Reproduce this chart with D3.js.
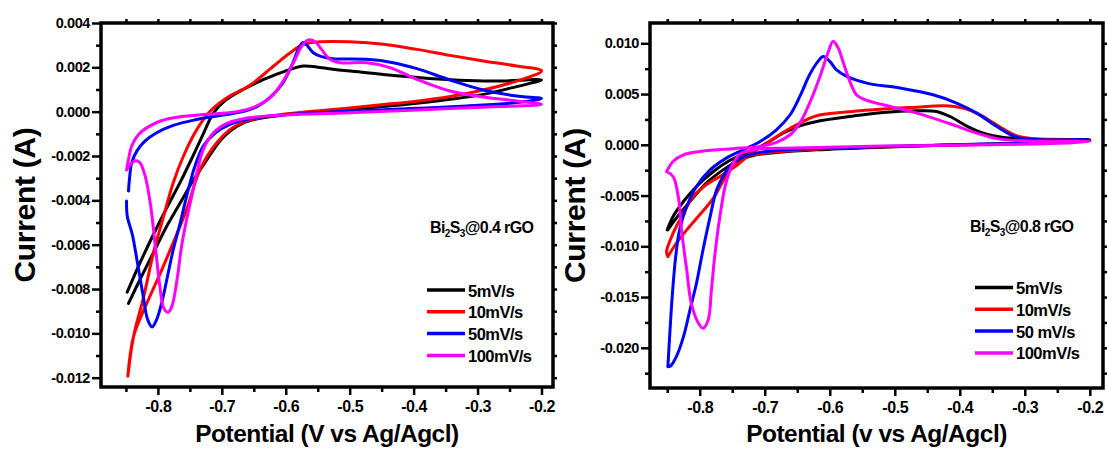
<!DOCTYPE html>
<html>
<head>
<meta charset="utf-8">
<script src="https://cdn.jsdelivr.net/npm/d3@7"></script>
<style>
  body { margin: 0; background: #fff; }
  svg { display: block; }
  text { font-family: Arial, "Liberation Sans", sans-serif; font-weight: bold; fill: #000; }
</style>
</head>
<body>
<svg id="chart" width="1107" height="454"></svg>
<script>
// data: [potential (V), current (A)], forward scan then reverse scan
const seriesLabelsL = ["5mV/s", "10mV/s", "50mV/s", "100mV/s"];
const seriesLabelsR = ["5mV/s", "10mV/s", "50 mV/s", "100mV/s"];
const seriesColors = ["#000000", "#ff0000", "#0000ff", "#ff00ff"];

const xTicks = [-0.8, -0.7, -0.6, -0.5, -0.4, -0.3, -0.2];
const xMinor = [-0.85, -0.75, -0.65, -0.55, -0.45, -0.35, -0.25];
const yTicksL = [0.004, 0.002, 0.000, -0.002, -0.004, -0.006, -0.008, -0.010, -0.012];
const yMinorL = [0.003, 0.001, -0.001, -0.003, -0.005, -0.007, -0.009, -0.011];
const yTicksR = [0.010, 0.005, 0.000, -0.005, -0.010, -0.015, -0.020];
const yMinorR = [0.0075, 0.0025, -0.0025, -0.0075, -0.0125, -0.0175, -0.0225];

// Bi2S3@0.4 rGO
const left5 = [
  [-0.848,-0.00814],[-0.828,-0.00682],[-0.807,-0.00554],[-0.786,-0.00433],[-0.765,-0.00318],
  [-0.746,-0.00205],[-0.729,-0.00100],[-0.713,-0.00005],[-0.694,0.00052],[-0.666,0.00101],
  [-0.640,0.00138],[-0.614,0.00169],[-0.593,0.00191],[-0.572,0.00206],[-0.552,0.00202],
  [-0.526,0.00191],[-0.473,0.00176],[-0.421,0.00161],[-0.369,0.00149],[-0.317,0.00141],
  [-0.265,0.00138],[-0.200,0.00143],
  [-0.239,0.00113],[-0.291,0.00078],[-0.343,0.00056],[-0.395,0.00038],[-0.447,0.00023],
  [-0.500,0.00011],[-0.552,-0.00002],[-0.604,-0.00015],[-0.640,-0.00030],[-0.666,-0.00050],
  [-0.687,-0.00087],[-0.703,-0.00132],[-0.723,-0.00215],[-0.744,-0.00306],[-0.765,-0.00411],
  [-0.786,-0.00516],[-0.807,-0.00636],[-0.828,-0.00757],[-0.846,-0.00865]
];
const left10 = [
  [-0.847,-0.01193],[-0.838,-0.01013],[-0.822,-0.00832],[-0.807,-0.00637],[-0.791,-0.00471],
  [-0.776,-0.00321],[-0.760,-0.00200],[-0.739,-0.00080],[-0.718,0.00003],[-0.692,0.00063],
  [-0.656,0.00119],[-0.619,0.00206],[-0.593,0.00266],[-0.572,0.00304],[-0.546,0.00315],
  [-0.500,0.00315],[-0.447,0.00304],[-0.395,0.00281],[-0.343,0.00254],[-0.291,0.00229],
  [-0.239,0.00206],[-0.200,0.00184],
  [-0.239,0.00138],[-0.291,0.00098],[-0.343,0.00068],[-0.395,0.00047],[-0.447,0.00032],
  [-0.500,0.00017],[-0.552,0.00003],[-0.604,-0.00012],[-0.640,-0.00027],[-0.666,-0.00047],
  [-0.687,-0.00080],[-0.708,-0.00140],[-0.734,-0.00260],[-0.755,-0.00441],[-0.776,-0.00591],
  [-0.796,-0.00727],[-0.817,-0.00862],[-0.838,-0.01013],[-0.847,-0.01193]
];
const left50 = [
  [-0.846,-0.00358],[-0.844,-0.00290],[-0.841,-0.00230],[-0.833,-0.00178],[-0.820,-0.00132],
  [-0.802,-0.00095],[-0.776,-0.00062],[-0.744,-0.00038],[-0.708,-0.00020],[-0.671,-0.00002],
  [-0.645,0.00023],[-0.625,0.00063],[-0.606,0.00123],[-0.591,0.00206],[-0.579,0.00289],
  [-0.573,0.00312],[-0.567,0.00300],[-0.557,0.00266],[-0.544,0.00248],[-0.526,0.00239],
  [-0.473,0.00236],[-0.432,0.00221],[-0.395,0.00194],[-0.343,0.00143],[-0.291,0.00098],
  [-0.239,0.00071],[-0.200,0.00059],
  [-0.239,0.00041],[-0.317,0.00026],[-0.395,0.00015],[-0.473,0.00005],[-0.552,-0.00005],
  [-0.614,-0.00017],[-0.656,-0.00032],[-0.687,-0.00057],[-0.710,-0.00095],[-0.729,-0.00155],
  [-0.742,-0.00245],[-0.755,-0.00381],[-0.765,-0.00501],[-0.776,-0.00622],[-0.786,-0.00757],
  [-0.794,-0.00862],[-0.802,-0.00938],[-0.809,-0.00971],[-0.816,-0.00938],[-0.823,-0.00832],
  [-0.832,-0.00682],[-0.840,-0.00554],[-0.848,-0.00471],[-0.849,-0.00403]
];
const left100 = [
  [-0.849,-0.00263],[-0.846,-0.00215],[-0.841,-0.00155],[-0.830,-0.00102],[-0.817,-0.00072],
  [-0.796,-0.00042],[-0.765,-0.00023],[-0.723,-0.00012],[-0.682,-0.00002],[-0.656,0.00014],
  [-0.635,0.00041],[-0.619,0.00078],[-0.604,0.00138],[-0.588,0.00221],[-0.575,0.00296],
  [-0.565,0.00324],[-0.554,0.00315],[-0.544,0.00281],[-0.531,0.00236],[-0.515,0.00221],
  [-0.473,0.00221],[-0.437,0.00199],[-0.395,0.00146],[-0.343,0.00093],[-0.291,0.00066],
  [-0.239,0.00048],[-0.200,0.00033],
  [-0.265,0.00023],[-0.369,0.00011],[-0.473,-0.00002],[-0.578,-0.00012],[-0.630,-0.00020],
  [-0.666,-0.00032],[-0.692,-0.00053],[-0.713,-0.00095],[-0.729,-0.00170],[-0.739,-0.00275],
  [-0.747,-0.00381],[-0.755,-0.00486],[-0.763,-0.00607],[-0.770,-0.00757],[-0.778,-0.00877],
  [-0.784,-0.00905],[-0.791,-0.00885],[-0.797,-0.00787],[-0.804,-0.00607],[-0.812,-0.00411],
  [-0.820,-0.00290],[-0.828,-0.00230],[-0.835,-0.00221],[-0.843,-0.00238],[-0.849,-0.00263]
];

// Bi2S3@0.8 rGO
const right5 = [
  [-0.850,-0.00838],[-0.841,-0.00707],[-0.825,-0.00559],[-0.805,-0.00411],[-0.779,-0.00263],
  [-0.754,-0.00155],[-0.723,-0.00066],[-0.697,0.00016],[-0.672,0.00115],[-0.646,0.00187],
  [-0.620,0.00230],[-0.569,0.00279],[-0.518,0.00319],[-0.466,0.00335],[-0.436,0.00329],
  [-0.415,0.00279],[-0.390,0.00187],[-0.364,0.00115],[-0.333,0.00072],[-0.287,0.00056],
  [-0.200,0.00049],
  [-0.260,0.00030],[-0.313,0.00016],[-0.415,-0.00003],[-0.518,-0.00023],[-0.620,-0.00049],
  [-0.682,-0.00076],[-0.713,-0.00099],[-0.738,-0.00148],[-0.764,-0.00247],[-0.790,-0.00378],
  [-0.815,-0.00559],[-0.836,-0.00723],[-0.849,-0.00838]
];
const right10 = [
  [-0.849,-0.01101],[-0.851,-0.01052],[-0.841,-0.00871],[-0.825,-0.00674],[-0.810,-0.00510],
  [-0.790,-0.00394],[-0.769,-0.00312],[-0.749,-0.00230],[-0.723,-0.00099],[-0.697,0.00016],
  [-0.672,0.00122],[-0.646,0.00214],[-0.620,0.00286],[-0.569,0.00325],[-0.518,0.00352],
  [-0.466,0.00371],[-0.425,0.00385],[-0.395,0.00362],[-0.364,0.00279],[-0.338,0.00174],
  [-0.313,0.00089],[-0.282,0.00056],[-0.200,0.00043],
  [-0.260,0.00022],[-0.313,0.00010],[-0.415,-0.00003],[-0.518,-0.00020],[-0.620,-0.00043],
  [-0.682,-0.00069],[-0.713,-0.00095],[-0.738,-0.00131],[-0.754,-0.00247],[-0.766,-0.00378],
  [-0.779,-0.00526],[-0.800,-0.00690],[-0.820,-0.00838],[-0.836,-0.00970],[-0.849,-0.01101]
];
const right50 = [
  [-0.849,-0.02186],[-0.846,-0.01857],[-0.842,-0.01463],[-0.837,-0.01101],[-0.831,-0.00838],
  [-0.820,-0.00608],[-0.805,-0.00411],[-0.784,-0.00247],[-0.759,-0.00131],[-0.733,-0.00049],
  [-0.707,0.00033],[-0.682,0.00148],[-0.661,0.00296],[-0.646,0.00477],[-0.631,0.00690],
  [-0.618,0.00822],[-0.610,0.00871],[-0.600,0.00822],[-0.590,0.00740],[-0.574,0.00674],
  [-0.543,0.00608],[-0.492,0.00559],[-0.441,0.00493],[-0.405,0.00411],[-0.374,0.00312],
  [-0.343,0.00181],[-0.313,0.00076],[-0.272,0.00049],[-0.200,0.00049],
  [-0.260,0.00020],[-0.364,0.00007],[-0.518,-0.00016],[-0.620,-0.00036],[-0.682,-0.00056],
  [-0.713,-0.00082],[-0.733,-0.00122],[-0.749,-0.00181],[-0.761,-0.00279],[-0.774,-0.00444],
  [-0.784,-0.00707],[-0.795,-0.01036],[-0.805,-0.01364],[-0.815,-0.01627],[-0.825,-0.01890],
  [-0.836,-0.02087],[-0.845,-0.02180],[-0.849,-0.02186]
];
const right100 = [
  [-0.851,-0.00263],[-0.841,-0.00164],[-0.825,-0.00099],[-0.800,-0.00066],[-0.749,-0.00039],
  [-0.707,-0.00016],[-0.682,0.00023],[-0.661,0.00099],[-0.646,0.00214],[-0.631,0.00411],
  [-0.615,0.00674],[-0.602,0.00920],[-0.595,0.01019],[-0.587,0.00953],[-0.579,0.00805],
  [-0.569,0.00625],[-0.559,0.00493],[-0.546,0.00444],[-0.518,0.00394],[-0.466,0.00312],
  [-0.415,0.00207],[-0.374,0.00115],[-0.338,0.00056],[-0.287,0.00036],[-0.200,0.00033],
  [-0.260,0.00012],[-0.364,0.00000],[-0.518,-0.00013],[-0.620,-0.00026],[-0.672,-0.00033],
  [-0.707,-0.00040],[-0.723,-0.00060],[-0.738,-0.00089],[-0.751,-0.00214],[-0.761,-0.00411],
  [-0.769,-0.00707],[-0.777,-0.01101],[-0.782,-0.01430],[-0.787,-0.01726],[-0.795,-0.01808],
  [-0.802,-0.01759],[-0.813,-0.01561],[-0.820,-0.01233],[-0.828,-0.00838],[-0.833,-0.00510],
  [-0.841,-0.00312],[-0.851,-0.00263]
];

const svg = d3.select("#chart");
svg.append("rect").attr("width", 1107).attr("height", 454).attr("fill", "#fff");

const fmtY = d => d.toFixed(3);
const fmtX = d => d.toFixed(1);
const FONT = "Arial, 'Liberation Sans', sans-serif";

function drawPanel(p) {
    const x = d3.scaleLinear().domain(p.xDomain).range([p.left, p.right]);
    const y = d3.scaleLinear().domain(p.yDomain).range([p.bottom, p.top]);
    const g = svg.append("g");

    // curves
    const line = d3.line()
        .x(d => x(d[0]))
        .y(d => y(d[1]))
        .curve(d3.curveCatmullRom.alpha(0.5));
    g.selectAll("path.cv").data(p.series).enter().append("path")
        .attr("class", "cv")
        .attr("d", d => line(d))
        .attr("fill", "none")
        .attr("stroke", (d, i) => seriesColors[i])
        .attr("stroke-width", 3)
        .attr("stroke-linejoin", "round")
        .attr("stroke-linecap", "round");

    // axes (major with labels, minor without)
    const styleTicks = sel => {
        sel.select(".domain").remove();
        sel.selectAll("line").attr("stroke", "#000").attr("stroke-width", 2.5);
    };
    g.append("g").attr("transform", `translate(${p.left},0)`)
        .call(d3.axisLeft(y).tickValues(p.yTicks).tickSize(9).tickPadding(2).tickFormat(fmtY))
        .call(styleTicks)
        .selectAll("text").attr("font-size", 14.5).style("font-family", FONT).style("font-weight", "bold")
        .attr("letter-spacing", -0.4);
    g.append("g").attr("transform", `translate(${p.left},0)`)
        .call(d3.axisLeft(y).tickValues(p.yMinor).tickSize(5).tickFormat(""))
        .call(styleTicks);
    g.append("g").attr("transform", `translate(0,${p.bottom})`)
        .call(d3.axisBottom(x).tickValues(xTicks).tickSize(8).tickPadding(6).tickFormat(fmtX))
        .call(styleTicks)
        .selectAll("text").attr("font-size", 16).style("font-family", FONT).style("font-weight", "bold")
        .attr("letter-spacing", -0.4);
    g.append("g").attr("transform", `translate(0,${p.bottom})`)
        .call(d3.axisBottom(x).tickValues(xMinor).tickSize(5).tickFormat(""))
        .call(styleTicks);
    // mirrored small ticks on top and right
    g.append("g").attr("transform", `translate(${p.right},0)`)
        .call(d3.axisRight(y).tickValues(p.yTicks.concat(p.yMinor)).tickSize(4).tickFormat(""))
        .call(styleTicks);
    g.append("g").attr("transform", `translate(0,${p.top})`)
        .call(d3.axisTop(x).tickValues(xTicks.concat(xMinor)).tickSize(4).tickFormat(""))
        .call(styleTicks);

    // frame
    g.append("rect")
        .attr("x", p.left).attr("y", p.top)
        .attr("width", p.right - p.left).attr("height", p.bottom - p.top)
        .attr("fill", "none").attr("stroke", "#000").attr("stroke-width", 3.5);

    // axis titles
    g.append("text")
        .attr("transform", `translate(${p.yTitleX},${(p.top + p.bottom) / 2}) rotate(-90)`)
        .attr("text-anchor", "middle")
        .attr("font-size", 30)
        .attr("letter-spacing", -0.3)
        .text("Current (A)");
    g.append("text")
        .attr("x", (p.left + p.right) / 2).attr("y", 442)
        .attr("text-anchor", "middle")
        .attr("font-size", 24.5)
        .attr("letter-spacing", -0.5)
        .text(p.xTitle);

    // sample label with subscripts
    const t = g.append("text").attr("x", p.noteX).attr("y", p.noteY)
        .attr("font-size", 16).attr("letter-spacing", -0.6);
    t.append("tspan").text("Bi");
    t.append("tspan").attr("font-size", 10).attr("dy", 4).text("2");
    t.append("tspan").attr("dy", -4).text("S");
    t.append("tspan").attr("font-size", 10).attr("dy", 4).text("3");
    t.append("tspan").attr("dy", -4).text(p.noteRest);

    // legend
    const lg = g.append("g").attr("transform", `translate(${p.legX},${p.legY})`);
    p.labels.forEach((lab, i) => {
        lg.append("line")
            .attr("x1", 0).attr("x2", 38)
            .attr("y1", i * 21.8).attr("y2", i * 21.8)
            .attr("stroke", seriesColors[i]).attr("stroke-width", 3.5);
        lg.append("text")
            .attr("x", 41).attr("y", i * 21.8 + 6.5)
            .attr("font-size", 16.5)
            .attr("letter-spacing", -0.5)
            .text(lab);
    });
}

drawPanel({
    left: 101, right: 553, top: 23, bottom: 387,
    xDomain: [-0.889, -0.182], yDomain: [-0.01242, 0.004],
    yTicks: yTicksL, yMinor: yMinorL,
    series: [left5, left10, left50, left100],
    labels: seriesLabelsL,
    yTitleX: 35,
    xTitle: "Potential (V vs Ag/Agcl)",
    noteX: 430, noteY: 233, noteRest: "@0.4 rGO",
    legX: 427, legY: 290
});

drawPanel({
    left: 650, right: 1103, top: 23, bottom: 388,
    xDomain: [-0.8765, -0.1797], yDomain: [-0.02396, 0.012],
    yTicks: yTicksR, yMinor: yMinorR,
    series: [right5, right10, right50, right100],
    labels: seriesLabelsR,
    yTitleX: 585,
    xTitle: "Potential (v vs Ag/Agcl)",
    noteX: 970, noteY: 232, noteRest: "@0.8 rGO",
    legX: 975, legY: 287.5
});
</script>
</body>
</html>
